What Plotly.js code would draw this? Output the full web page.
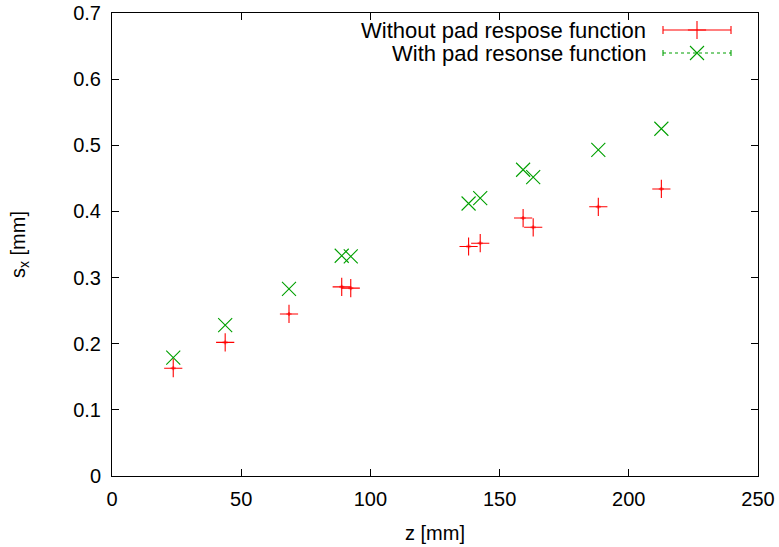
<!DOCTYPE html>
<html>
<head>
<meta charset="utf-8">
<script src="https://cdn.plot.ly/plotly-3.0.1.min.js"></script>
<style>html,body{margin:0;padding:0;background:#fff;}#chart{width:779px;height:547px;}</style>
</head>
<body>
<div id="chart"></div>
<script>
const zWithout = [23.7, 43.8, 68.5, 88.9, 92.4, 138.0, 142.5, 159.1, 163.0, 188.2, 212.6];
const sWithout = [0.163, 0.202, 0.245, 0.286, 0.284, 0.347, 0.352, 0.390, 0.376, 0.407, 0.434];
const zWith = [23.7, 43.8, 68.5, 88.9, 92.4, 138.0, 142.5, 159.1, 163.0, 188.2, 212.6];
const sWith = [0.179, 0.228, 0.283, 0.333, 0.332, 0.412, 0.420, 0.463, 0.452, 0.493, 0.525];
const seriesNames = ["Without pad respose function", "With pad resonse function"];
const xTicks = [0, 50, 100, 150, 200, 250];
const yTicks = [0, 0.1, 0.2, 0.3, 0.4, 0.5, 0.6, 0.7];

const RED = "#ff0000", GREEN = "#00a000";
const FONT = "Liberation Sans, Arial, sans-serif";

const traces = [
  {x: zWithout, y: sWithout, type: "scatter", mode: "markers", name: seriesNames[0],
   marker: {symbol: "cross-thin-open", size: 13, color: RED, line: {color: RED, width: 1.1}},
   error_y: {type: "constant", value: 0.003, color: "rgba(255,0,0,0.5)", thickness: 2, width: 0},
   error_x: {type: "constant", value: 1.0, color: "rgba(255,0,0,0.5)", thickness: 2, width: 0}},
  {x: zWith, y: sWith, type: "scatter", mode: "markers", name: seriesNames[1],
   marker: {symbol: "x-thin-open", size: 14, color: GREEN, line: {color: GREEN, width: 1.1}}},
  // legend samples on an overlay axis (pixel-like coordinates)
  {x: [697], y: [30], xaxis: "x2", yaxis: "y2", type: "scatter", mode: "markers",
   marker: {symbol: "cross-thin-open", size: 13, color: RED, line: {color: RED, width: 1.1}},
   error_x: {type: "constant", value: 34, color: RED, thickness: 1.1, width: 4}},
  {x: [697], y: [53], xaxis: "x2", yaxis: "y2", type: "scatter", mode: "markers",
   marker: {symbol: "x-thin-open", size: 14, color: GREEN, line: {color: GREEN, width: 1.1}}}
];

const axisCommon = {
  showgrid: false, zeroline: false, showline: true, linecolor: "#000", linewidth: 1,
  mirror: "ticks", ticks: "inside", ticklen: 7, tickcolor: "#000", tickwidth: 1,
  tickfont: {family: FONT, size: 20, color: "#000"}
};

const layout = {
  width: 779, height: 547,
  margin: {l: 112, r: 21, t: 13, b: 71},
  paper_bgcolor: "#fff", plot_bgcolor: "#fff",
  showlegend: false,
  font: {family: FONT, color: "#000"},
  xaxis: Object.assign({}, axisCommon, {range: [0, 250], tickvals: xTicks, ticktext: xTicks.map(String),
    ticklabelstandoff: 5,
    title: {text: "z [mm]", font: {family: FONT, size: 20}, standoff: 16}}),
  yaxis: Object.assign({}, axisCommon, {range: [0, 0.7], tickvals: yTicks, ticktext: yTicks.map(v => v === 0 ? "0" : v.toFixed(1)),
    ticklabelstandoff: 6,
    title: {text: "s<sub>x</sub> [mm]", font: {family: FONT, size: 20}, standoff: 42}}),
  xaxis2: {overlaying: "x", anchor: "y2", range: [112, 758], visible: false, fixedrange: true},
  yaxis2: {overlaying: "y", anchor: "x2", range: [476, 13], visible: false, fixedrange: true},
  shapes: [
    {type: "line", xref: "x2", yref: "y2", x0: 663, x1: 731, y0: 53, y1: 53, line: {color: GREEN, width: 1.1, dash: "3px,3px"}},
    {type: "line", xref: "x2", yref: "y2", x0: 663, x1: 663, y0: 50, y1: 56, line: {color: GREEN, width: 1.1}},
    {type: "line", xref: "x2", yref: "y2", x0: 731, x1: 731, y0: 50, y1: 56, line: {color: GREEN, width: 1.1}}
  ],
  annotations: [
    {xref: "x2", yref: "y2", x: 648, y: 30, text: seriesNames[0], showarrow: false, xanchor: "right", yanchor: "middle",
     font: {family: FONT, size: 22, color: "#000"}},
    {xref: "x2", yref: "y2", x: 648, y: 53, text: seriesNames[1], showarrow: false, xanchor: "right", yanchor: "middle",
     font: {family: FONT, size: 22, color: "#000"}}
  ]
};

Plotly.newPlot("chart", traces, layout, {displayModeBar: false, staticPlot: true});
</script>
</body>
</html>
